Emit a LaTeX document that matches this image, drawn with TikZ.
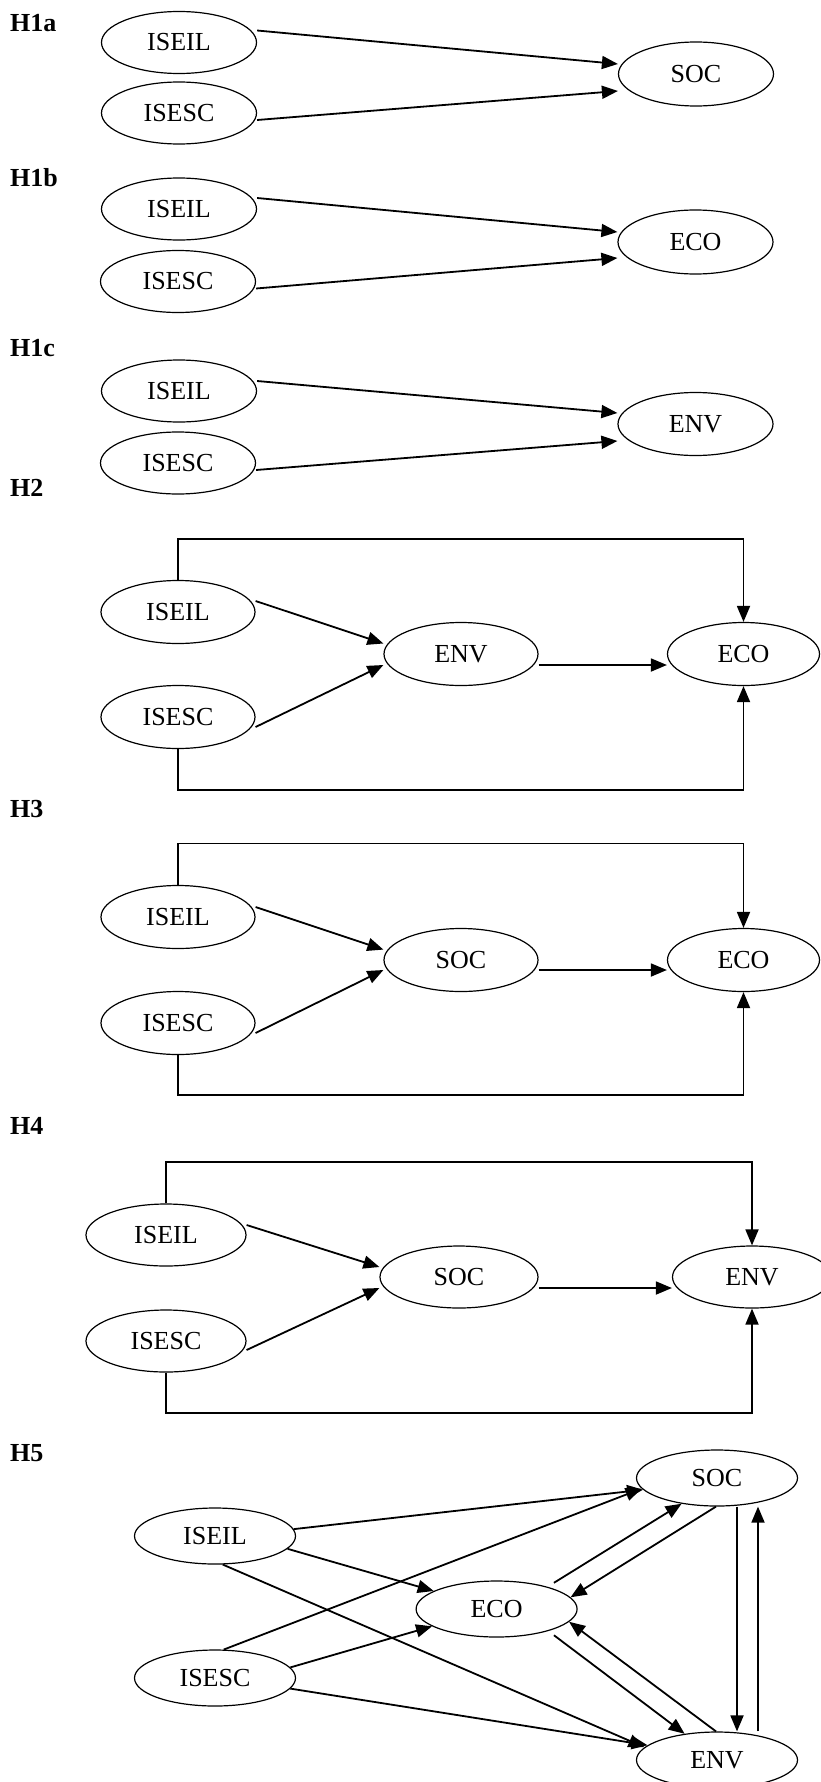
\documentclass[tikz,border=0pt]{standalone}
\usepackage{fontspec}
\setmainfont{Liberation Serif}
\usetikzlibrary{shapes.geometric,arrows.meta}
\begin{document}
\begin{tikzpicture}[x=1pt,y=-1pt,
  ell/.style={ellipse,draw,line width=1.2pt,inner sep=0pt,font=\fontsize{26}{30}\selectfont},
  sa/.style={ell,minimum width=155pt,minimum height=62pt},
  sb/.style={ell,minimum width=154pt,minimum height=63pt},
  sc/.style={ell,minimum width=160pt,minimum height=62pt},
  sd/.style={ell,minimum width=161pt,minimum height=56pt},
  hlab/.style={anchor=base west,inner sep=0pt,font=\bfseries\fontsize{26}{30}\selectfont},
  arr/.style={line width=1.8pt,-{Triangle[length=16pt,width=13pt]}}
]
\useasboundingbox (0,0) rectangle (821,1782);

% H1a
\node[hlab] (l1a) at (10,31.7) {H1a};
\node[sa] (a1) at (179,42.5) {ISEIL};
\node[sa] (a2) at (179,113) {ISESC};
\node[sa,minimum height=64pt] (a3) at (696,74) {SOC};
\draw[arr] ([yshift=12pt]a1.east) -- ([yshift=10pt]a3.west);
\draw[arr] ([yshift=-7pt]a2.east) -- ([yshift=-17pt]a3.west);

% H1b
\node[hlab] (l1b) at (10,186.7) {H1b};
\node[sa] (b1) at (179,209) {ISEIL};
\node[sa] (b2) at (178,281.5) {ISESC};
\node[sa,minimum height=64pt] (b3) at (695.5,242) {ECO};
\draw[arr] ([yshift=11pt]b1.east) -- ([yshift=10pt]b3.west);
\draw[arr] ([yshift=-7pt]b2.east) -- ([yshift=-16pt]b3.west);

% H1c
\node[hlab] (l1c) at (10,356.7) {H1c};
\node[sa] (c1) at (179,391) {ISEIL};
\node[sa] (c2) at (178,463) {ISESC};
\node[sa,minimum height=63pt] (c3) at (695.5,424) {ENV};
\draw[arr] ([yshift=10pt]c1.east) -- ([yshift=11pt]c3.west);
\draw[arr] ([yshift=-7pt]c2.east) -- ([yshift=-17pt]c3.west);

% H2
\node[hlab] (l2) at (10,496.5) {H2};
\node[sb] (d1) at (178,612) {ISEIL};
\node[sb] (d2) at (461,654) {ENV};
\node[sb,minimum width=152pt] (d3) at (743.5,654) {ECO};
\node[sb] (d4) at (178,717) {ISESC};
\coordinate (dtop) at (0,538.6);
\coordinate (dbot) at (0,790);
\draw[arr] (d1.north) -- (d1.north |- dtop) -- (d3.north |- dtop) -- (d3.north);
\draw[arr] (d4.south) -- (d4.south |- dbot) -- (d3.south |- dbot) -- (d3.south);
\draw[arr] ([yshift=11pt]d1.east) -- ([yshift=10.5pt]d2.west);
\draw[arr] ([yshift=-10pt]d4.east) -- ([yshift=-11pt]d2.west);
\draw[arr] ([yshift=-11pt]d2.east) -- ([yshift=-11pt]d3.west);

% H3
\node[hlab] (l3) at (10,817) {H3};
\node[sb] (f1) at (178,917) {ISEIL};
\node[sb] (f2) at (461,960) {SOC};
\node[sb,minimum width=152pt] (f3) at (743.5,960) {ECO};
\node[sb] (f4) at (178,1023) {ISESC};
\coordinate (ftop) at (0,843.5);
\coordinate (fbot) at (0,1095);
\draw[arr] (f1.north) -- (f1.north |- ftop) -- (f3.north |- ftop) -- (f3.north);
\draw[arr] (f4.south) -- (f4.south |- fbot) -- (f3.south |- fbot) -- (f3.south);
\draw[arr] ([yshift=10pt]f1.east) -- ([yshift=10.4pt]f2.west);
\draw[arr] ([yshift=-10pt]f4.east) -- ([yshift=-10pt]f2.west);
\draw[arr] ([yshift=-10pt]f2.east) -- ([yshift=-10pt]f3.west);

% H4
\node[hlab] (l4) at (10,1134) {H4};
\node[sc] (g1) at (166,1235) {ISEIL};
\node[sc,minimum width=158pt] (g2) at (459,1277) {SOC};
\node[sc,minimum width=159pt] (g3) at (752,1277) {ENV};
\node[sc] (g4) at (166,1341) {ISESC};
\coordinate (gtop) at (0,1162);
\coordinate (gbot) at (0,1413);
\draw[arr] (g1.north) -- (g1.north |- gtop) -- (g3.north |- gtop) -- (g3.north);
\draw[arr] (g4.south) -- (g4.south |- gbot) -- (g3.south |- gbot) -- (g3.south);
\draw[arr] ([yshift=10pt]g1.east) -- ([yshift=10pt]g2.west);
\draw[arr] ([yshift=-9pt]g4.east) -- ([yshift=-11pt]g2.west);
\draw[arr] ([yshift=-11pt]g2.east) -- ([yshift=-11pt]g3.west);

% H5
\node[hlab] (l5) at (10,1461) {H5};
\node[sd] (h1) at (215,1536) {ISEIL};
\node[sd] (h2) at (717,1478) {SOC};
\node[sd] (h3) at (496.6,1609) {ECO};
\node[sd] (h4) at (215,1678) {ISESC};
\node[sd] (h5) at (717,1760) {ENV};
\draw[arr] (h1.5) -- (h2.189);
\draw[arr] (h1.350) -- (h3.164);
\draw[arr] (h1.285) -- (h5.170);
\draw[arr] (h4.73) -- (h2.188);
\draw[arr] (h4.8) -- (h3.195);
\draw[arr] (h4.352) -- (h5.168);
\draw[arr] ([yshift=6pt]h3.north east) -- (h2.216);
\draw[arr] (h2.268) -- (h3.9);
\draw[arr] ([yshift=-6pt]h3.south east) -- (h5.141);
\draw[arr] (h5.92) -- (h3.350);
\draw[arr] ([xshift=20pt]h2.south) -- ([xshift=20pt]h5.north);
\draw[arr] ([xshift=41pt]h5.north) -- ([xshift=41pt]h2.south);
\end{tikzpicture}
\end{document}
